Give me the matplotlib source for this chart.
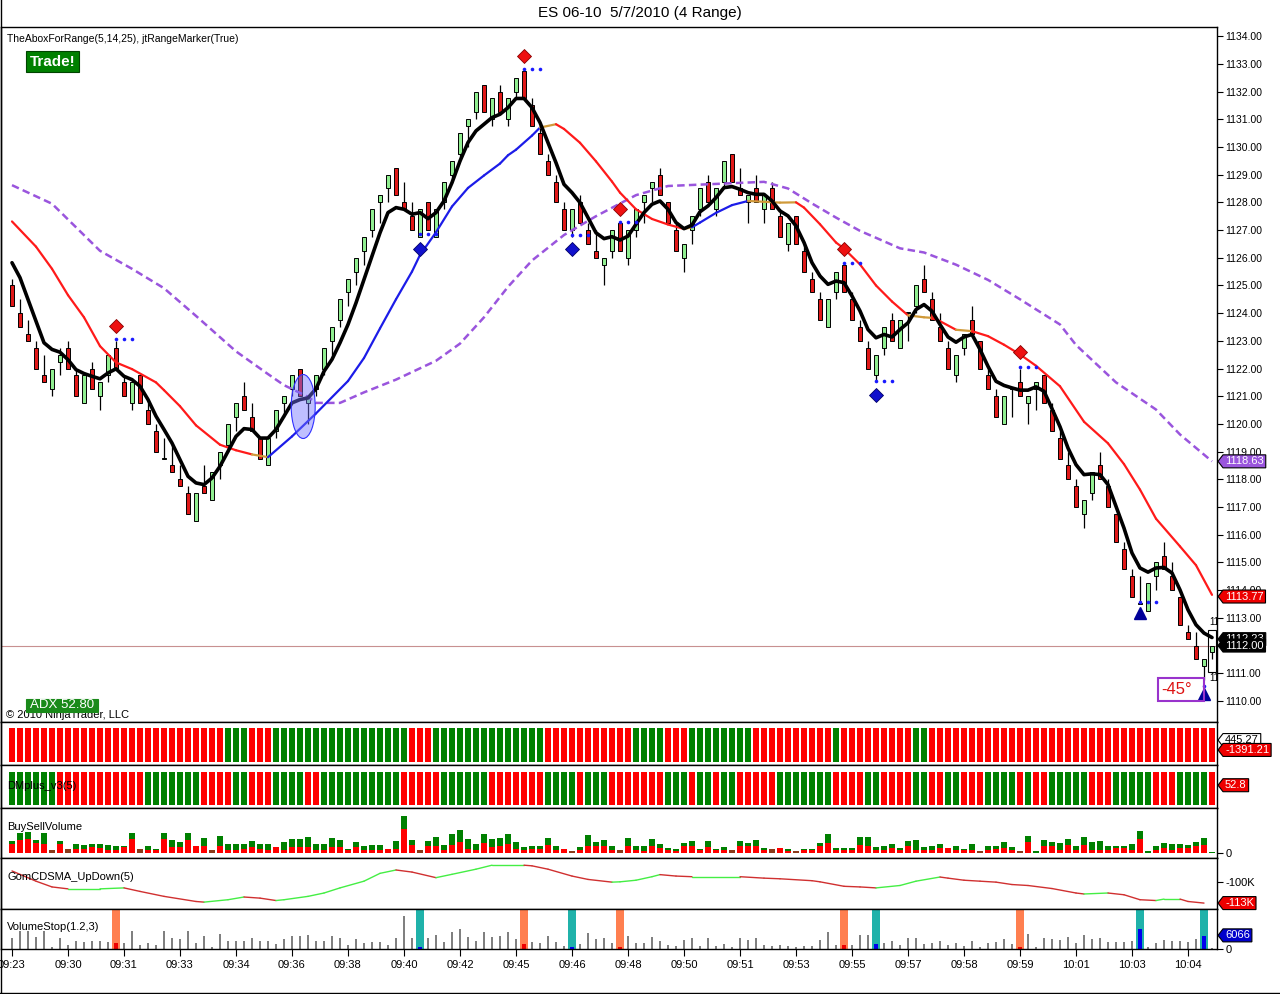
import numpy as np
import matplotlib.pyplot as plt
from matplotlib.patches import Rectangle, Ellipse, Polygon
from matplotlib.collections import LineCollection
from matplotlib.transforms import IdentityTransform

plt.rcParams['font.family'] = ['Liberation Sans', 'DejaVu Sans']

W, H = 1280, 994

# ---------------- price bars (4 range) ----------------
opens = [
    1125.00, 1124.00, 1123.25, 1122.75, 1121.75, 1121.25, 1122.25, 1122.75, 1121.75, 1120.75,
    1122.00, 1121.00, 1121.75, 1122.75, 1121.50, 1120.75, 1121.75, 1120.50, 1119.75, 1118.75,
    1118.50, 1118.00, 1117.50, 1116.50, 1117.75, 1117.25, 1118.50, 1119.25, 1120.25, 1121.00,
    1120.25, 1119.50, 1118.50, 1119.75, 1120.75, 1121.25, 1122.00, 1120.75, 1121.25, 1122.00,
    1123.00, 1123.75, 1124.75, 1125.50, 1126.25, 1127.00, 1128.00, 1128.50, 1129.25, 1128.00,
    1127.50, 1126.75, 1128.00, 1126.75, 1128.00, 1129.00, 1129.75, 1130.75, 1131.25, 1132.25,
    1131.00, 1132.00, 1131.00, 1132.00, 1132.75, 1131.50, 1130.50, 1129.50, 1128.75, 1127.75,
    1127.00, 1128.00, 1127.00, 1126.25, 1125.75, 1126.25, 1127.25, 1126.00, 1127.00, 1128.00,
    1128.50, 1129.00, 1128.00, 1127.00, 1126.00, 1127.00, 1127.75, 1128.75, 1127.75, 1128.75,
    1129.75, 1128.50, 1128.00, 1128.50, 1127.75, 1128.50, 1127.50, 1126.50, 1127.50, 1126.25,
    1125.25, 1124.50, 1123.50, 1124.75, 1125.75, 1124.50, 1123.50, 1122.75, 1121.75, 1122.75,
    1123.75, 1122.75, 1124.00, 1124.25, 1125.25, 1124.50, 1123.50, 1122.75, 1121.75, 1122.75,
    1123.75, 1123.00, 1121.75, 1121.00, 1120.00, 1121.25, 1121.50, 1120.75, 1121.25, 1121.75,
    1120.50, 1119.50, 1118.50, 1117.75, 1116.75, 1117.50, 1118.50, 1117.75, 1116.75, 1115.50,
    1114.50, 1113.50, 1113.25, 1114.50, 1115.25, 1114.50, 1113.75, 1112.50, 1112.00, 1111.25,
    1111.75]
highs = [
    1125.25, 1124.50, 1123.75, 1123.00, 1122.50, 1122.00, 1122.75, 1123.00, 1122.00, 1121.75,
    1122.25, 1121.50, 1122.50, 1123.00, 1121.75, 1121.50, 1121.75, 1120.75, 1120.00, 1119.50,
    1119.25, 1118.50, 1117.75, 1117.50, 1118.50, 1118.25, 1119.00, 1120.00, 1120.75, 1121.50,
    1120.75, 1119.50, 1119.50, 1120.50, 1121.00, 1121.75, 1122.00, 1121.00, 1121.75, 1122.75,
    1123.50, 1124.50, 1125.25, 1126.00, 1126.75, 1127.75, 1128.25, 1129.00, 1129.25, 1128.75,
    1128.00, 1127.75, 1128.00, 1127.75, 1128.75, 1129.50, 1130.50, 1131.00, 1132.00, 1132.25,
    1131.75, 1132.25, 1131.75, 1132.50, 1132.75, 1131.75, 1130.75, 1129.75, 1129.00, 1128.00,
    1127.75, 1128.25, 1127.25, 1127.00, 1126.00, 1127.00, 1127.25, 1127.00, 1127.75, 1128.25,
    1128.75, 1129.25, 1128.00, 1127.25, 1126.50, 1127.50, 1128.50, 1129.00, 1128.50, 1129.50,
    1129.75, 1129.25, 1128.25, 1129.00, 1128.25, 1128.75, 1127.75, 1127.25, 1127.50, 1126.50,
    1125.50, 1124.75, 1124.50, 1125.50, 1125.75, 1124.75, 1123.75, 1123.00, 1122.50, 1123.50,
    1124.00, 1123.75, 1124.00, 1125.00, 1125.75, 1124.75, 1124.00, 1123.00, 1122.50, 1123.25,
    1124.25, 1123.00, 1122.00, 1121.25, 1121.00, 1121.25, 1122.00, 1121.00, 1121.50, 1121.75,
    1120.75, 1119.75, 1119.00, 1118.00, 1117.25, 1118.25, 1119.00, 1118.00, 1116.75, 1115.75,
    1114.75, 1114.50, 1114.25, 1115.00, 1115.75, 1115.00, 1113.75, 1112.75, 1112.50, 1111.50,
    1112.00]
lows = [
    1124.25, 1123.50, 1123.00, 1122.00, 1121.50, 1121.00, 1121.75, 1122.00, 1121.00, 1120.75,
    1121.25, 1120.50, 1121.50, 1122.00, 1121.00, 1120.50, 1120.75, 1120.00, 1119.00, 1118.75,
    1118.25, 1117.75, 1116.75, 1116.50, 1117.50, 1117.25, 1118.00, 1119.00, 1119.75, 1120.50,
    1119.75, 1118.75, 1118.50, 1119.50, 1120.25, 1121.00, 1121.00, 1120.00, 1121.00, 1121.75,
    1122.50, 1123.50, 1124.25, 1125.00, 1125.75, 1126.75, 1127.25, 1128.00, 1128.25, 1127.75,
    1127.00, 1126.75, 1127.00, 1126.75, 1127.75, 1128.75, 1129.50, 1130.00, 1131.00, 1131.25,
    1130.75, 1131.25, 1130.75, 1131.75, 1131.75, 1130.75, 1129.75, 1129.00, 1128.00, 1127.00,
    1126.75, 1127.25, 1126.50, 1126.00, 1125.00, 1126.00, 1126.25, 1125.75, 1126.75, 1127.25,
    1128.00, 1128.25, 1127.25, 1126.25, 1125.50, 1126.50, 1127.50, 1128.00, 1127.50, 1128.50,
    1128.75, 1128.25, 1127.25, 1128.00, 1127.25, 1127.75, 1126.75, 1126.25, 1126.50, 1125.50,
    1124.75, 1123.75, 1123.50, 1124.50, 1124.75, 1123.75, 1123.00, 1122.00, 1121.50, 1122.50,
    1123.00, 1122.75, 1123.00, 1124.00, 1124.75, 1123.75, 1123.00, 1122.00, 1121.50, 1122.50,
    1123.25, 1122.00, 1121.25, 1120.25, 1120.00, 1120.25, 1121.00, 1120.00, 1120.50, 1120.75,
    1119.75, 1118.75, 1118.00, 1117.00, 1116.25, 1117.25, 1118.00, 1117.00, 1115.75, 1114.75,
    1113.75, 1113.50, 1113.25, 1114.00, 1114.75, 1114.00, 1112.75, 1112.25, 1111.50, 1110.75,
    1111.50]
closes = [
    1124.25, 1123.50, 1123.00, 1122.00, 1121.50, 1122.00, 1122.50, 1122.00, 1121.00, 1121.75,
    1121.25, 1121.50, 1122.50, 1122.00, 1121.00, 1121.50, 1120.75, 1120.00, 1119.00, 1118.75,
    1118.25, 1117.75, 1116.75, 1117.50, 1117.50, 1118.25, 1119.00, 1120.00, 1120.75, 1120.50,
    1119.75, 1118.75, 1119.50, 1120.50, 1121.00, 1121.75, 1121.00, 1121.00, 1121.75, 1122.75,
    1123.50, 1124.50, 1125.25, 1126.00, 1126.75, 1127.75, 1128.25, 1129.00, 1128.25, 1127.75,
    1127.00, 1127.75, 1127.00, 1127.75, 1128.75, 1129.50, 1130.50, 1131.00, 1132.00, 1131.25,
    1131.75, 1131.25, 1131.75, 1132.50, 1131.75, 1130.75, 1129.75, 1129.00, 1128.00, 1127.00,
    1127.75, 1127.25, 1126.50, 1126.00, 1126.00, 1127.00, 1126.25, 1127.00, 1127.75, 1128.25,
    1128.75, 1128.25, 1127.25, 1126.25, 1126.50, 1127.50, 1128.50, 1128.00, 1128.50, 1129.50,
    1128.75, 1128.25, 1128.25, 1128.00, 1128.25, 1127.75, 1126.75, 1127.25, 1126.50, 1125.50,
    1124.75, 1123.75, 1124.50, 1125.50, 1124.75, 1123.75, 1123.00, 1122.00, 1122.50, 1123.50,
    1123.00, 1123.75, 1124.00, 1125.00, 1124.75, 1123.75, 1123.00, 1122.00, 1122.50, 1123.25,
    1123.25, 1122.00, 1121.25, 1120.25, 1121.00, 1121.25, 1121.00, 1121.00, 1121.50, 1120.75,
    1119.75, 1118.75, 1118.00, 1117.00, 1117.25, 1118.25, 1118.00, 1117.00, 1115.75, 1114.75,
    1113.75, 1113.50, 1114.25, 1115.00, 1114.75, 1114.00, 1112.75, 1112.25, 1111.50, 1111.50,
    1112.00]

# fast average (black)
fast_ma = [
    1125.82, 1125.28, 1124.49, 1123.71, 1122.93, 1122.69, 1122.59, 1122.32, 1121.96, 1121.82,
    1121.72, 1121.63, 1121.84, 1121.99, 1121.72, 1121.60, 1121.36, 1120.88, 1120.28, 1119.80,
    1119.31, 1118.71, 1118.11, 1117.87, 1117.81, 1118.05, 1118.47, 1119.01, 1119.55, 1119.83,
    1119.80, 1119.49, 1119.49, 1119.80, 1120.28, 1120.76, 1120.88, 1120.94, 1121.27, 1121.90,
    1122.33, 1122.93, 1123.59, 1124.37, 1125.22, 1126.06, 1126.90, 1127.63, 1127.81, 1127.75,
    1127.57, 1127.63, 1127.41, 1127.63, 1128.05, 1128.71, 1129.49, 1130.16, 1130.58, 1130.82,
    1131.06, 1131.18, 1131.42, 1131.75, 1131.75, 1131.42, 1130.88, 1130.16, 1129.43, 1128.65,
    1128.35, 1127.99, 1127.45, 1126.90, 1126.69, 1126.76, 1126.64, 1126.78, 1127.21, 1127.63,
    1127.93, 1128.05, 1127.75, 1127.27, 1127.05, 1127.18, 1127.66, 1127.87, 1128.17, 1128.53,
    1128.57, 1128.47, 1128.35, 1128.29, 1128.29, 1128.05, 1127.69, 1127.51, 1127.15, 1126.55,
    1125.82, 1125.34, 1125.04, 1125.16, 1125.10, 1124.62, 1124.08, 1123.41, 1123.11, 1123.23,
    1123.14, 1123.41, 1123.65, 1124.13, 1124.31, 1124.07, 1123.59, 1123.14, 1122.95, 1123.14,
    1123.23, 1122.69, 1122.08, 1121.54, 1121.39, 1121.30, 1121.22, 1121.22, 1121.34, 1121.18,
    1120.55, 1119.90, 1119.13, 1118.53, 1118.17, 1118.20, 1118.17, 1117.81, 1117.03, 1116.24,
    1115.34, 1114.80, 1114.65, 1114.80, 1114.82, 1114.62, 1114.01, 1113.29, 1112.75, 1112.45,
    1112.29]

# slow average (red falling / blue rising / orange flat)
slow_bars = [0, 3, 5, 7, 9, 11, 13, 15, 18, 19, 21, 23, 26, 28, 30, 32, 35, 38, 42, 44,
             46, 48, 50, 51, 53, 55, 57, 59, 61, 62, 63, 65, 66, 68, 69, 71, 73, 75, 76, 78,
             80, 82, 84, 85, 86, 88, 90, 92, 94, 96, 98, 99, 101, 103, 104, 106, 108, 110, 112, 114,
             115, 116, 118, 120, 122, 124, 126, 128, 131, 134, 137, 139, 141, 143, 146, 148, 150]
slow_vals = [1127.31, 1126.40, 1125.60, 1124.65, 1123.85, 1122.81, 1122.22, 1121.98, 1121.50, 1121.22,
             1120.64, 1119.95, 1119.25, 1119.05, 1118.90, 1118.80, 1119.55, 1120.38, 1121.55, 1122.38,
             1123.45, 1124.50, 1125.50, 1126.10, 1126.92, 1127.85, 1128.52, 1128.97, 1129.40, 1129.70,
             1129.90, 1130.41, 1130.70, 1130.82, 1130.65, 1130.15, 1129.48, 1128.75, 1128.35, 1127.75,
             1127.40, 1127.20, 1127.04, 1127.10, 1127.27, 1127.62, 1127.90, 1128.05, 1128.02, 1127.99,
             1128.00, 1127.81, 1127.21, 1126.55, 1126.33, 1125.76, 1125.00, 1124.42, 1123.92, 1123.85,
             1123.83, 1123.71, 1123.40, 1123.35, 1123.17, 1122.86, 1122.51, 1122.10, 1121.36, 1120.08,
             1119.30, 1118.55, 1117.63, 1116.58, 1115.58, 1114.90, 1113.83]

# long average (purple dashed)
purple_bars = [0, 5, 11, 15, 19, 23, 28, 32, 34, 37, 38, 41, 44, 48, 53, 56, 59, 62, 65, 69,
               73, 78, 82, 86, 90, 94, 97, 100, 103, 106, 108, 111, 114, 118, 122, 126, 131, 133, 138, 143,
               146, 150]
purple_vals = [1128.62, 1127.95, 1126.25, 1125.60, 1124.90, 1123.90, 1122.62, 1121.80, 1121.40, 1120.98,
               1120.76, 1120.76, 1121.14, 1121.60, 1122.28, 1122.90, 1123.85, 1124.95, 1125.90, 1126.82,
               1127.50, 1128.26, 1128.59, 1128.64, 1128.69, 1128.74, 1128.50, 1127.96, 1127.45, 1126.97,
               1126.72, 1126.34, 1126.19, 1125.75, 1125.20, 1124.50, 1123.59, 1122.85, 1121.50, 1120.52,
               1119.62, 1118.65]

# range marker signals
sell_bars = [13, 64, 76, 104, 126]
sell_marks = [1123.55, 1133.28, 1127.75, 1126.33, 1122.58]
sell_dots = [1123.05, 1132.80, 1127.29, 1125.80, 1122.05]
buy_bars = [51, 70, 108]
buy_marks = [1126.30, 1126.30, 1121.04]
buy_dots = [1126.84, 1126.82, 1121.54]
tri_bars = [141, 149]
tri_marks = [1113.18, 1110.25]
tri_dots = [1113.56, 1110.55]

# indicator strips
strip1 = ('r' * 27 + 'g' * 3 + 'r' * 3 + 'g' * 17 + 'r' * 3 + 'g' * 14 + 'r' * 11 + 'g' * 4 +
          'r' * 3 + 'g' * 8 + 'r' * 10 + 'g' * 1 + 'r' * 9 + 'g' * 2 + 'r' * 36)
strip2 = ('g' * 6 + 'r' * 11 + 'g' * 7 + 'r' * 4 + 'g' * 2 + 'r' * 3 + 'g' * 4 + 'r' * 2 + 'g' * 10 +
          'r' * 5 + 'g' * 6 + 'r' * 7 + 'g' * 4 + 'r' * 1 + 'g' * 3 + 'r' * 7 + 'g' * 3 + 'r' * 1 +
          'g' * 2 + 'r' * 1 + 'g' * 2 + 'r' * 5 + 'g' * 7 + 'r' * 4 + 'g' * 2 + 'r' * 4 + 'g' * 2 +
          'r' * 2 + 'g' * 2 + 'r' * 3 + 'g' * 4 + 'r' * 1 + 'g' * 1 + 'r' * 2 + 'g' * 5 + 'r' * 3 +
          'g' * 5 + 'r' * 3 + 'g' * 4 + 'r' * 1)

# volume per bar and sell part
volume = [
    4800, 8000, 8200, 5300, 8000, 1100, 4800, 1600, 3500, 3100,
    3700, 3500, 3100, 2700, 2700, 8000, 1600, 2700, 1700, 8000,
    5100, 4400, 8000, 2700, 6000, 1100, 6700, 3700, 3500, 3700,
    4700, 3700, 3700, 2400, 4300, 5600, 5600, 6400, 3700, 3700,
    5900, 5100, 1700, 4300, 2800, 3200, 3100, 1700, 4700, 14700,
    5100, 1100, 4700, 6400, 3100, 7700, 9100, 5500, 3500, 7700,
    5500, 5900, 7500, 4300, 2300, 2900, 2700, 5900, 2900, 1500,
    700, 2300, 7100, 4500, 5100, 2700, 1100, 5900, 2700, 2700,
    5500, 3500, 1900, 1500, 3900, 4700, 1500, 4700, 1500, 2300,
    1100, 4700, 3900, 5100, 1900, 1500, 1900, 1500, 700, 1500,
    1500, 3900, 7500, 1900, 1900, 1900, 6300, 6300, 2300, 2700,
    3700, 1900, 4700, 5100, 2300, 2700, 3500, 1900, 2700, 1500,
    3500, 800, 2700, 2900, 4300, 2300, 800, 6700, 700, 5100,
    4300, 3900, 5500, 2700, 6300, 4300, 4700, 2900, 2900, 2900,
    3500, 8700, 700, 2700, 3900, 3500, 3500, 3100, 4300, 5900,
    300]
sell_vol = [
    3700, 5100, 5700, 4000, 3700, 1100, 3500, 1600, 1700, 1700,
    2400, 1900, 1300, 1300, 2400, 5700, 1600, 1300, 1100, 5700,
    2400, 2400, 5100, 2700, 2700, 1100, 2700, 1300, 1300, 1700,
    2400, 1700, 1300, 2400, 1300, 2400, 2400, 2400, 1300, 1300,
    2400, 2400, 1300, 2400, 1300, 1300, 1100, 1700, 1700, 9700,
    3100, 1100, 2900, 2900, 1100, 3100, 4400, 1700, 1100, 4000,
    2400, 2700, 3500, 1700, 1100, 1700, 1600, 3100, 1100, 1500,
    700, 1100, 2900, 2900, 2900, 1100, 1100, 2900, 1100, 800,
    2900, 1900, 1100, 800, 2900, 2900, 1100, 2300, 1100, 1100,
    1100, 2700, 2700, 2900, 1100, 1500, 1900, 800, 700, 1100,
    1100, 2700, 4000, 1100, 1100, 1100, 3100, 2700, 1100, 1100,
    1900, 1100, 2700, 1100, 1100, 1100, 1900, 1900, 1100, 1100,
    1100, 800, 1100, 1700, 1900, 1100, 800, 4300, 0, 2700,
    2700, 1100, 3100, 1100, 3100, 1100, 1300, 1100, 1900, 1900,
    1100, 5700, 0, 1100, 1900, 1100, 1900, 1900, 2700, 3200,
    0]
even_bars = [5, 7, 16, 25, 51, 70, 76, 90, 95, 98, 121, 126]

# GomCDSMA_UpDown(5), in thousands
gom_bars = [0, 3, 5, 7, 11, 14, 16, 19, 23, 24, 27, 29, 31, 33, 34, 37, 39, 41, 44, 46,
            48, 50, 53, 55, 58, 60, 64, 65, 67, 70, 72, 75, 76, 78, 80, 81, 83, 85, 91, 94,
            96, 100, 101, 104, 106, 108, 111, 113, 116, 117, 119, 121, 123, 125, 127, 130, 133, 134, 137, 139,
            141, 143, 144, 146, 147, 149]
gom_vals = [-93.1, -99.5, -103.1, -104.3, -104.3, -103.7, -105.9, -109.0, -112.2, -112.6,
            -111.1, -109.4, -110.1, -111.6, -111.1, -109.0, -106.9, -103.7, -99.5, -94.6,
            -92.5, -93.8, -97.3, -95.2, -92.0, -89.5, -89.5, -89.9, -92.0, -96.3,
            -98.4, -100.1, -99.9, -98.9, -96.7, -95.4, -96.3, -96.7, -96.7, -97.6,
            -98.0, -99.2, -99.9, -102.7, -103.1, -103.7, -102.2, -99.5, -96.9, -97.6,
            -98.9, -99.5, -100.1, -101.6, -102.2, -104.1, -106.9, -107.5, -106.9, -108.0,
            -111.1, -111.6, -110.7, -110.7, -112.2, -113.2]

time_labels = ['09:23', '09:30', '09:31', '09:33', '09:34', '09:36', '09:38', '09:40', '09:42',
               '09:45', '09:46', '09:48', '09:50', '09:51', '09:53', '09:55', '09:57', '09:58',
               '09:59', '10:01', '10:03', '10:04']

bars = np.arange(len(closes))
o, h, l, c = map(np.array, (opens, highs, lows, closes))


def rect_px(left, top, right, bottom):
    return [left / W, 1 - bottom / H, (right - left) / W, (bottom - top) / H]


def colored_line(ax, xs, ys, up_c, dn_c, flat_c, thr, lw, z):
    segs, cols = [], []
    for k in range(len(xs) - 1):
        s = (ys[k + 1] - ys[k]) / (xs[k + 1] - xs[k])
        segs.append([(xs[k], ys[k]), (xs[k + 1], ys[k + 1])])
        cols.append(up_c if s > thr else (dn_c if s < -thr else flat_c))
    ax.add_collection(LineCollection(segs, colors=cols, linewidths=lw, zorder=z, capstyle='round'))


def style_panel(ax):
    ax.set_xlim(-1.375, 150.625)
    for sp in ax.spines.values():
        sp.set_color('black')
        sp.set_linewidth(1.0)
    ax.tick_params(axis='y', left=False, right=True, labelleft=False, labelright=True,
                   direction='out', length=4, labelsize=8, pad=2)
    ax.tick_params(axis='x', bottom=False, labelbottom=False)


fig = plt.figure(figsize=(W / 100, H / 100), dpi=100)
fig.patch.set_facecolor('white')

ax = fig.add_axes(rect_px(1, 27, 1217, 722))
s1 = fig.add_axes(rect_px(1, 722, 1217, 765))
s2 = fig.add_axes(rect_px(1, 765, 1217, 808))
bsv = fig.add_axes(rect_px(1, 808, 1217, 858))
gom = fig.add_axes(rect_px(1, 858, 1217, 909))
vs = fig.add_axes(rect_px(1, 909, 1217, 949))
for a in (ax, s1, s2, bsv, gom, vs):
    style_panel(a)

# ---- price panel ----
ax.set_ylim(1109.24, 1134.33)
ax.set_yticks(np.arange(1110, 1135))
ax.set_yticklabels([f'{v:.2f}' for v in np.arange(1110, 1135)], fontsize=7.5)

ax.axhline(1112.0, color='#c89090', lw=0.8, zorder=1)
ax.vlines(bars, l, h, color='black', lw=0.9, zorder=2)
up = c >= o
ax.bar(bars, np.maximum(np.abs(c - o), 0.03), bottom=np.minimum(o, c), width=0.62,
       color=np.where(up, '#90ee90', '#e01818'), edgecolor='black', linewidth=0.7, zorder=2.5)

ax.plot(purple_bars, purple_vals, color='#9a55dd', lw=1.8, ls=(0, (3, 1.7)), zorder=3)
colored_line(ax, slow_bars, slow_vals, '#1c1ce8', '#ff1a1a', '#d09a3a', 0.07, 1.6, 3.2)
ax.plot(bars, fast_ma, color='black', lw=2.6, zorder=4, solid_capstyle='round')

ax.plot(sell_bars, sell_marks, 'D', color='#ee1111', mec='#880000', mew=0.6, ms=6.8, zorder=5)
ax.plot(buy_bars, buy_marks, 'D', color='#1111cc', mec='#000066', mew=0.6, ms=6.8, zorder=5)
ax.plot(tri_bars, tri_marks, '^', color='#000099', ms=8, zorder=5)
for b, yv in list(zip(sell_bars, sell_dots)) + list(zip(buy_bars, buy_dots)) + list(zip(tri_bars, tri_dots)):
    xs = [j for j in (b, b + 1, b + 2) if j < bars[-1]]
    ax.plot(xs, [yv] * len(xs), 'o', color='#1a1aff', ms=2.6, mew=0, zorder=5)

ax.add_patch(Ellipse((36.4, 1120.63), 3.0, 2.31, fc=(0.45, 0.45, 1.0, 0.45), ec='#3030ff', lw=0.8, zorder=6))
ax.add_patch(Rectangle((149.55, 1111.05), 1.0, 1.52, fill=False, ec='black', lw=0.8, zorder=6))
ax.add_patch(Rectangle((143.25, 1110.0), 5.75, 0.83, fill=False, ec='#9933cc', lw=1.5, zorder=6))
ax.text(143.7, 1110.42, '-45°', color='#dd1111', fontsize=12, va='center', ha='left', zorder=7)
ax.text(149.7, 1112.86, '11', fontsize=7, va='center', ha='left', clip_on=True, zorder=7)
ax.text(149.7, 1110.84, '11', fontsize=7, va='center', ha='left', clip_on=True, zorder=7)

# ---- strips ----
for a, cols, y0, hh in ((s1, strip1, 0.07, 0.79), (s2, strip2, 0.07, 0.77)):
    a.set_ylim(0, 1)
    a.set_yticks([])
    a.bar(bars, hh, bottom=y0, width=0.8,
          color=['#ff0000' if ch == 'r' else '#008000' for ch in cols], linewidth=0)

# ---- BuySellVolume ----
vol = np.array(volume)
sv = np.array(sell_vol)
even = np.isin(bars, even_bars)
bsv.set_ylim(-2100, 17900)
bsv.bar(bars[~even], vol[~even], width=0.75, color='#008000', linewidth=0)
bsv.bar(bars[~even], sv[~even], width=0.75, color='#ff0000', linewidth=0)
bsv.bar(bars[even], vol[even], width=0.75, color='#8b3a1a', linewidth=0)
bsv.set_yticks([0])
bsv.set_yticklabels(['0'])

# ---- GomCDSMA ----
gom.set_ylim(-116.9, -85.0)
colored_line(gom, gom_bars, gom_vals, '#44ee44', '#d03030', '#44ee44', 0.0, 1.0, 3)
gom.set_yticks([-100])
gom.set_yticklabels(['-100K'])

# ---- VolumeStop ----
vs.set_ylim(0, 17800)
sig = set(sell_bars) | set(buy_bars) | set(tri_bars)
plain = np.array([b not in sig for b in bars])
vs.bar(bars[plain], vol[plain], width=0.28, color='#808080', linewidth=0)
for b in sorted(sig):
    is_sell = b in sell_bars
    vs.bar(b, 17800, width=0.95, color='#ff7f50' if is_sell else '#20b2aa', linewidth=0, zorder=1)
    vs.bar(b, volume[b], width=0.6, color='#ee0000' if is_sell else '#0000ee', linewidth=0, zorder=2)
vs.set_yticks([0])
vs.set_yticklabels(['0'])
vs.set_xticks(np.arange(0, 148, 7))
vs.set_xticklabels(time_labels)
vs.tick_params(axis='x', bottom=True, labelbottom=True, direction='out', length=5, labelsize=8, pad=3)

# ---- figure texts ----
def ftext(x, y, s, **kw):
    return fig.text(x / W, 1 - y / H, s, **kw)


def fbox(x0, y0, x1, y1, fc, ec, z, lw=0.8):
    fig.add_artist(Rectangle((x0 / W, 1 - y1 / H), (x1 - x0) / W, (y1 - y0) / H,
                             transform=fig.transFigure, fc=fc, ec=ec, lw=lw, zorder=z))


ftext(640, 13, 'ES 06-10  5/7/2010 (4 Range)', ha='center', va='center', fontsize=11)
ftext(7, 39, 'TheAboxForRange(5,14,25), jtRangeMarker(True)', ha='left', va='center', fontsize=7.5)
fbox(26, 51, 79, 72, '#008000', '#004400', 4)
ftext(52.5, 61.5, 'Trade!', ha='center', va='center', fontsize=11, fontweight='bold', color='white', zorder=5)
ftext(6, 714.5, '© 2010 NinjaTrader, LLC', ha='left', va='center', fontsize=8, zorder=3)
fbox(26, 699, 98, 712, '#1a8a1a', '#1a8a1a', 4)
ftext(62, 705.5, 'ADX 52.80', ha='center', va='center', fontsize=9.5, color='white', zorder=5)
ftext(7, 786, 'DMplus_v3(5)', ha='left', va='center', fontsize=8)
ftext(7, 827, 'BuySellVolume', ha='left', va='center', fontsize=8)
ftext(7, 877, 'GomCDSMA_UpDown(5)', ha='left', va='center', fontsize=8)
ftext(7, 927, 'VolumeStop(1.2,3)', ha='left', va='center', fontsize=8)

# outer frame lines
fig.add_artist(plt.Line2D([0.5 / W, 0.5 / W], [0, 1], transform=fig.transFigure, color='black', lw=1))
fig.add_artist(plt.Line2D([0, 1], [1 - 992.5 / H, 1 - 992.5 / H], transform=fig.transFigure, color='black', lw=1))

# ---- value tags on the right axis ----
renderer = fig.canvas.get_renderer()


def tag(a, s, fc, value=None, frac=None, tc='white', z=6):
    x0 = a.bbox.x1
    if value is not None:
        y = a.transData.transform((0, value))[1]
    else:
        y = a.transAxes.transform((0, frac))[1]
    t = fig.text(x0 + 8, y, s, color=tc, fontsize=8, va='center', ha='left',
                 transform=IdentityTransform(), zorder=z + 0.5)
    w = t.get_window_extent(renderer=renderer).width + 4
    hh = 13
    fig.add_artist(Polygon([(x0 + 1, y), (x0 + 6, y + hh / 2), (x0 + 6 + w, y + hh / 2),
                            (x0 + 6 + w, y - hh / 2), (x0 + 6, y - hh / 2)], closed=True,
                           fc=fc, ec='black', lw=0.8, transform=IdentityTransform(), zorder=z))


tag(ax, '1118.63', '#9a55dd', value=purple_vals[-1], z=6)
tag(ax, '1113.77', '#ee0000', value=slow_vals[-1] - 0.06, z=7)
tag(ax, '1112.23', '#000000', value=1112.23, z=8)
tag(ax, '1112.00', '#000000', value=closes[-1], z=9)
tag(s1, '445.27', 'white', frac=0.58, tc='black', z=6)
tag(s1, '-1391.21', '#ee0000', frac=0.35, z=7)
tag(s2, '52.8', '#ee0000', frac=0.53, z=6)
tag(gom, '-113K', '#ee0000', value=gom_vals[-1], z=6)
tag(vs, '6066', '#0000cc', value=6066, z=6)

fig.savefig('out.png', dpi=100)
